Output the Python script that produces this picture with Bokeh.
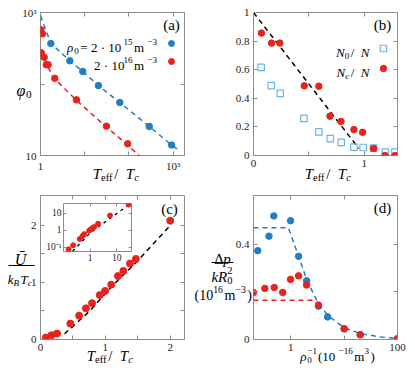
from bokeh.plotting import figure
from bokeh.models import Range1d, FixedTicker, LinearAxis, LogAxis, GridBox
from bokeh.core.properties import value
from bokeh.embed import file_html
from bokeh.resources import INLINE
import math

BLUE = "#1f7fc4"
RED = "#e8231d"
LBLUE = "#6cb4e4"
GRAY = "#8c8c8c"
SERIF = "Liberation Serif"

# ---------------- data ----------------
# (a) phi_0 vs T_eff/T_c
A_BLUE_X = [1.71, 4.6, 9.0, 20.4, 62, 288, 922]
A_BLUE_Y = [368, 211, 150, 95, 55, 25.5, 14]
A_RED_X = [1.02, 1.11, 1.04, 1.21, 1.35, 1.49, 2.10, 6.5, 30.9, 93.6]
A_RED_Y = [573, 504, 273, 237, 186, 186, 120, 60, 25.7, 14.6]
A_BLUE_FIT_X = [1.0, 1.71, 4.6, 9.0, 20.4, 62, 288, 922, 1450]
A_BLUE_FIT_Y = [900, 370, 211, 150, 95, 55, 25.5, 14, 11.5]
A_RED_FIT_X = [1.0, 1.5, 2.1, 6.5, 31, 94, 170]
A_RED_FIT_Y = [290, 170, 118, 59, 25, 14, 10]
A_XTICKS = [1, 10, 100, 1000]
A_XLABELS = ["1", "", "", "10³"]
A_YTICKS = [10, 100, 1000]
A_YLABELS = ["10", "", "10³"]

# (b) fractions
B_NC_X = [0.072, 0.163, 0.238, 0.458, 0.59, 0.69, 0.79, 0.907, 0.985, 1.084, 1.187, 1.277]
B_NC_Y = [0.856, 0.786, 0.786, 0.487, 0.485, 0.275, 0.238, 0.181, 0.162, 0.049, 0.0, 0.0]
B_N0_X = [0.069, 0.16, 0.241, 0.455, 0.59, 0.693, 0.792, 0.907, 0.99, 1.084, 1.19, 1.277]
B_N0_Y = [0.616, 0.489, 0.435, 0.259, 0.165, 0.118, 0.092, 0.059, 0.056, 0.052, 0.024, 0.024]
B_FIT_X = [0.0, 0.95]
B_FIT_Y = [1.0, 0.05]
B_XTICKS = [0, 0.5, 1]
B_XLABELS = ["0", "", "1"]
B_YTICKS = [0, 0.2, 0.4, 0.6, 0.8, 1.0]
B_YLABELS = ["0", "0.2", "0.4", "0.6", "0.8", "1"]

# (c) energy
C_X = [0.082, 0.169, 0.256, 0.46, 0.595, 0.70, 0.795, 0.913, 0.995, 1.09, 1.195, 1.277, 1.38, 1.47, 2.0]
C_Y = [0.035, 0.075, 0.104, 0.278, 0.417, 0.545, 0.636, 0.777, 0.85, 0.96, 1.11, 1.20, 1.33, 1.41, 2.08]
C_FIT_X = [0.37, 0.46, 0.76, 1.1, 1.5, 2.02]
C_FIT_Y = [0.10, 0.19, 0.50, 0.93, 1.38, 2.02]
C_XTICKS = [0, 0.5, 1, 1.5, 2]
C_XLABELS = ["0", "", "1", "", "2"]
C_YTICKS = [0, 0.5, 1, 1.5, 2]
C_YLABELS = ["0", "", "1", "", "2"]
# inset of (c)
I_X = [0.155, 0.23, 0.41, 0.52, 0.6, 0.92, 1.06, 1.23, 1.41, 1.99, 5.6, 28]
I_Y = [0.076, 0.13, 0.31, 0.46, 0.6, 0.96, 1.15, 1.37, 1.56, 2.48, 7.6, 34]
I_FIT_X = [0.22, 1.0, 34]
I_FIT_Y = [0.058, 0.7, 40]
I_XTICKS = [1, 10]
I_XLABELS = ["1", "10"]
I_YTICKS = [0.1, 1, 10]
I_YLABELS = ["10⁻¹", "1", "10"]

# (d) pressure
D_BLUE_X = [0.24, 0.39, 0.48, 0.99, 1.40, 1.98, 3.3, 4.9, 10, 20, 100]
D_BLUE_Y = [0.374, 0.435, 0.52, 0.50, 0.35, 0.247, 0.14, 0.095, 0.045, 0.02, 0.003]
D_RED_X = [0.2, 0.326, 0.49, 0.705, 0.99, 1.40, 1.98, 3.3, 10, 20, 100]
D_RED_Y = [0.198, 0.215, 0.219, 0.198, 0.253, 0.268, 0.229, 0.145, 0.045, 0.02, 0.003]
D_BLUE_FIT_X = [0.2, 0.9, 1.4, 2.0, 3.3, 5, 10, 20, 50, 100]
D_BLUE_FIT_Y = [0.47, 0.47, 0.35, 0.25, 0.15, 0.10, 0.05, 0.025, 0.01, 0.005]
D_RED_FIT_X = [0.2, 2.8]
D_RED_FIT_Y = [0.165, 0.165]
D_XTICKS = [1, 10, 100]
D_XLABELS = ["1", "", "100"]
D_YTICKS = [0, 0.2, 0.4]
D_YLABELS = ["0", "", "0.4"]

# ---------------- helpers ----------------
WR = {' ': 0.25, '=': 0.564, '·': 0.25, 'm': 0.778, '−': 0.564, '(': 0.333, ')': 0.333,
      '/': 0.278, 'e': 0.444, 'f': 0.333, 'Δ': 0.612}
WI = {'T': 0.556, 'c': 0.444, 'N': 0.667, 'k': 0.444, 'R': 0.611, 'B': 0.611, 'p': 0.5,
      'ρ': 0.55, 'φ': 0.6, 'Ū': 0.722}


def tw(s, size, italic=False):
    tot = 0
    for ch in s:
        if italic and ch in WI:
            tot += WI[ch]
        else:
            tot += WR.get(ch, 0.5)
    return tot * size


def no_align(p):
    if "frame_align" in p.properties():
        p.frame_align = False


def make_fig(w, h, xr, yr, xlog, ylog, bl, br, bt, bb):
    p = figure(width=w, height=h,
               x_range=Range1d(*xr), y_range=Range1d(*yr),
               x_axis_type="log" if xlog else "linear",
               y_axis_type="log" if ylog else "linear",
               output_backend="svg", toolbar_location=None,
               min_border_left=bl, min_border_right=br,
               min_border_top=bt, min_border_bottom=bb)
    p.xgrid.visible = False
    p.ygrid.visible = False
    p.outline_line_color = GRAY
    p.outline_line_width = 1
    p.background_fill_color = "white"
    p.border_fill_color = None
    return p


def style_axis(ax, ticks, labels, show=True, fsize="11px", standoff=4, tick=4):
    ax.ticker = FixedTicker(ticks=ticks, minor_ticks=[])
    ax.axis_line_color = None
    ax.major_tick_in = tick
    ax.major_tick_out = 0
    ax.major_tick_line_color = GRAY
    ax.minor_tick_line_color = None
    if show:
        ax.major_label_overrides = {t: l for t, l in zip(ticks, labels)}
        ax.major_label_text_font = SERIF
        ax.major_label_text_font_size = fsize
        ax.major_label_text_color = "#222222"
        ax.major_label_standoff = standoff
    else:
        ax.major_label_overrides = {t: "" for t in ticks}
        ax.major_label_text_font_size = "1px"
        ax.major_label_text_color = None
        ax.major_label_standoff = 0


def axes(p, xlog, ylog, xt, xl, yt, yl, **kw):
    style_axis(p.below[0], xt, xl, **kw)
    style_axis(p.left[0], yt, yl, **kw)
    top = LogAxis() if xlog else LinearAxis()
    right = LogAxis() if ylog else LinearAxis()
    style_axis(top, xt, xl, show=False, tick=kw.get("tick", 4))
    style_axis(right, yt, yl, show=False, tick=kw.get("tick", 4))
    p.add_layout(top, "above")
    p.add_layout(right, "right")


def page_to_data(p, fr, fw, fh, X, Y, xlog, ylog):
    fx = (X - fr[0]) / fw
    fy = (fr[1] - Y) / fh
    xs, xe = p.x_range.start, p.x_range.end
    ys, ye = p.y_range.start, p.y_range.end
    if xlog:
        xd = 10 ** (math.log10(xs) + fx * (math.log10(xe) - math.log10(xs)))
    else:
        xd = xs + fx * (xe - xs)
    if ylog:
        yd = 10 ** (math.log10(ys) + fy * (math.log10(ye) - math.log10(ys)))
    else:
        yd = ys + fy * (ye - ys)
    return xd, yd


DASH = "5 4"

# ---------------- (a) ----------------
FA = (40, 155)
pa = make_fig(192, 188, (1, 1800), (10, 1000), True, True, 40, 8, 12, 33)
axes(pa, True, True, A_XTICKS, A_XLABELS, A_YTICKS, A_YLABELS)
pa.line(A_BLUE_FIT_X, A_BLUE_FIT_Y, line_color=BLUE, line_width=1.5, line_dash=DASH)
pa.line(A_RED_FIT_X, A_RED_FIT_Y, line_color=RED, line_width=1.5, line_dash=DASH)
pa.scatter(A_BLUE_X, A_BLUE_Y, size=6.5, color=BLUE)
pa.scatter(A_RED_X, A_RED_Y, size=6.5, color=RED)
kx1, ky1 = page_to_data(pa, FA, 144, 143, 171, 43, True, True)
kx2, ky2 = page_to_data(pa, FA, 144, 143, 171, 61, True, True)
pa.scatter([kx1], [ky1], size=6, color=BLUE)
pa.scatter([kx2], [ky2], size=6, color=RED)

# ---------------- (b) ----------------
FB = (253, 155)
pb = make_fig(215, 188, (0, 1.3), (0, 1.0), False, False, 61, 10, 12, 33)
axes(pb, False, False, B_XTICKS, B_XLABELS, B_YTICKS, B_YLABELS)
pb.line(B_FIT_X, B_FIT_Y, line_color="black", line_width=1.5, line_dash=DASH)
pb.scatter(B_N0_X, B_N0_Y, marker="square", size=6.5, fill_color=None, line_color=LBLUE, line_width=1.2)
pb.scatter(B_NC_X, B_NC_Y, size=6.5, color=RED)
bx1, by1 = page_to_data(pb, FB, 144, 143, 383, 48, False, False)
bx2, by2 = page_to_data(pb, FB, 144, 143, 383, 68, False, False)
pb.scatter([bx1], [by1], marker="square", size=6.5, fill_color=None, line_color=LBLUE, line_width=1.2)
pb.scatter([bx2], [by2], size=6.5, color=RED)

# ---------------- (c) ----------------
pc = make_fig(192, 180, (0, 2.22), (0, 2.52), False, False, 40, 8, 7, 29)
axes(pc, False, False, C_XTICKS, C_XLABELS, C_YTICKS, C_YLABELS)
pc.line(C_FIT_X, C_FIT_Y, line_color="black", line_width=1.5, line_dash=DASH)
pc.scatter(C_X, C_Y, size=7, color=RED)

# inset of (c): its own log-log figure laid over panel (c)
pi = make_fig(95, 64, (0.1, 36), (0.056, 39), True, True, 24, 3, 3, 13)
axes(pi, True, True, I_XTICKS, I_XLABELS, I_YTICKS, I_YLABELS, fsize="9.5px", standoff=2, tick=3)
pi.line(I_FIT_X, I_FIT_Y, line_color="black", line_width=1.3, line_dash="3 4")
pi.scatter(I_X, I_Y, size=5, color=RED)
pi.margin = (12, 0, 0, 39)
pi.align = "start"
no_align(pi)

# ---------------- (d) ----------------
pd_ = make_fig(215, 180, (0.2, 100), (0, 0.606), True, False, 61, 10, 7, 29)
axes(pd_, True, False, D_XTICKS, D_XLABELS, D_YTICKS, D_YLABELS)
pd_.line(D_BLUE_FIT_X, D_BLUE_FIT_Y, line_color=BLUE, line_width=1.5, line_dash=DASH)
pd_.line(D_RED_FIT_X, D_RED_FIT_Y, line_color=RED, line_width=1.5, line_dash=DASH)
pd_.scatter(D_BLUE_X, D_BLUE_Y, size=6.5, color=BLUE)
pd_.scatter(D_RED_X, D_RED_Y, size=6.5, color=RED)

# ---------------- text overlay (page pixel coordinates, y down) ----------------
ov = figure(width=407, height=368, x_range=Range1d(0, 407), y_range=Range1d(368, 0),
            output_backend="svg", toolbar_location=None,
            min_border_left=0, min_border_right=0, min_border_top=0, min_border_bottom=0,
            x_axis_location=None, y_axis_location=None)
ov.grid.visible = False
ov.outline_line_color = None
ov.background_fill_color = None
ov.border_fill_color = None
no_align(ov)


def put(x, y, txt, size, style="normal", align="left", baseline="alphabetic"):
    ov.text(x=[x], y=[y], text=[txt], text_font=value(SERIF),
            text_font_size=value(f"{size:.1f}px"), text_font_style=style,
            text_color="black", text_align=align, text_baseline=baseline)


def rich(X, Y, runs, size, align="left"):
    small = size * 0.7
    pieces = []
    x = 0.0
    for txt, st in runs:
        if st == "ss":
            sb, sp = txt
            w = max(tw(sb, small), tw(sp, small)) + 1.0
            pieces.append((x, 0.25 * size, sb, small, "normal"))
            pieces.append((x, -0.42 * size, sp, small, "normal"))
        else:
            italic = st in ("i", "isub", "isup")
            sz = size if st in ("r", "i") else small
            dy = 0.25 * size if "sub" in st else (-0.42 * size if "sup" in st else 0)
            w = tw(txt, sz, italic) + (1.5 if sz < size else 0)
            pieces.append((x, dy, txt, sz, "italic" if italic else "normal"))
        x += w
    x0 = X - {"left": 0, "center": x / 2, "right": x}[align]
    for dx, dy, txt, sz, style in pieces:
        put(round(x0 + dx, 1), round(Y + dy, 1), txt, sz, style)


TLAB = [("T", "i"), ("eff", "sub"), (" / ", "r"), ("T", "i"), ("c", "isub")]

# (a)
rich(158, 47, [("ρ", "i"), ("0", "sub"), (" = 2 · 10", "r"), ("15", "sup"),
               (" m", "r"), ("−3", "sup")], 13, align="right")
rich(158, 65, [("2 · 10", "r"), ("16", "sup"), (" m", "r"), ("−3", "sup")], 13, align="right")
put(171, 24, "(a)", 15, align="center", baseline="middle")
rich(16, 90, [("φ", "i"), ("0", "sub")], 16)
rich(116, 173, TLAB, 15, align="center")
# (b)
rich(369, 52, [("N", "i"), ("0", "sub"), (" / ", "r"), ("N", "i")], 13, align="right")
rich(369, 72, [("N", "i"), ("c", "isub"), (" / ", "r"), ("N", "i")], 13, align="right")
put(382, 24, "(b)", 15, align="center", baseline="middle")
rich(328, 173, TLAB, 15, align="center")
# (c)
put(169, 208, "(c)", 15, align="center", baseline="middle")
put(20, 259, "Ū", 16, style="italic", align="center")
ov.segment(x0=[8], y0=[265], x1=[34], y1=[265], line_color="black", line_width=1)
rich(20, 279, [("k", "i"), ("B", "isub"), ("T", "i"), ("c", "isub")], 13, align="center")
rich(110, 355, TLAB, 15, align="center")
# (d)
put(382, 207, "(d)", 15, align="center", baseline="middle")
rich(222, 258, [("Δ", "r"), ("p", "i")], 15, align="center")
ov.segment(x0=[211], y0=[262], x1=[233], y1=[262], line_color="black", line_width=1)
rich(222, 276, [("k", "i"), ("R", "i"), (("0", "2"), "ss")], 15, align="center")
rich(194, 295, [("(10", "r"), ("16", "sup"), ("m", "r"), ("−3", "sup"), (")", "r")], 14)
rich(337, 356, [("ρ", "i"), (("0", "−1"), "ss"), (" (10", "r"), ("−16", "sup"),
                 ("m", "r"), ("3", "sup"), (")", "r")], 13, align="center")

layout = GridBox(children=[(pa, 0, 0), (pb, 0, 1), (pc, 1, 0), (pd_, 1, 1),
                           (ov, 0, 0, 2, 2), (pi, 1, 0)])
open("out.html", "w").write(file_html(layout, INLINE))
